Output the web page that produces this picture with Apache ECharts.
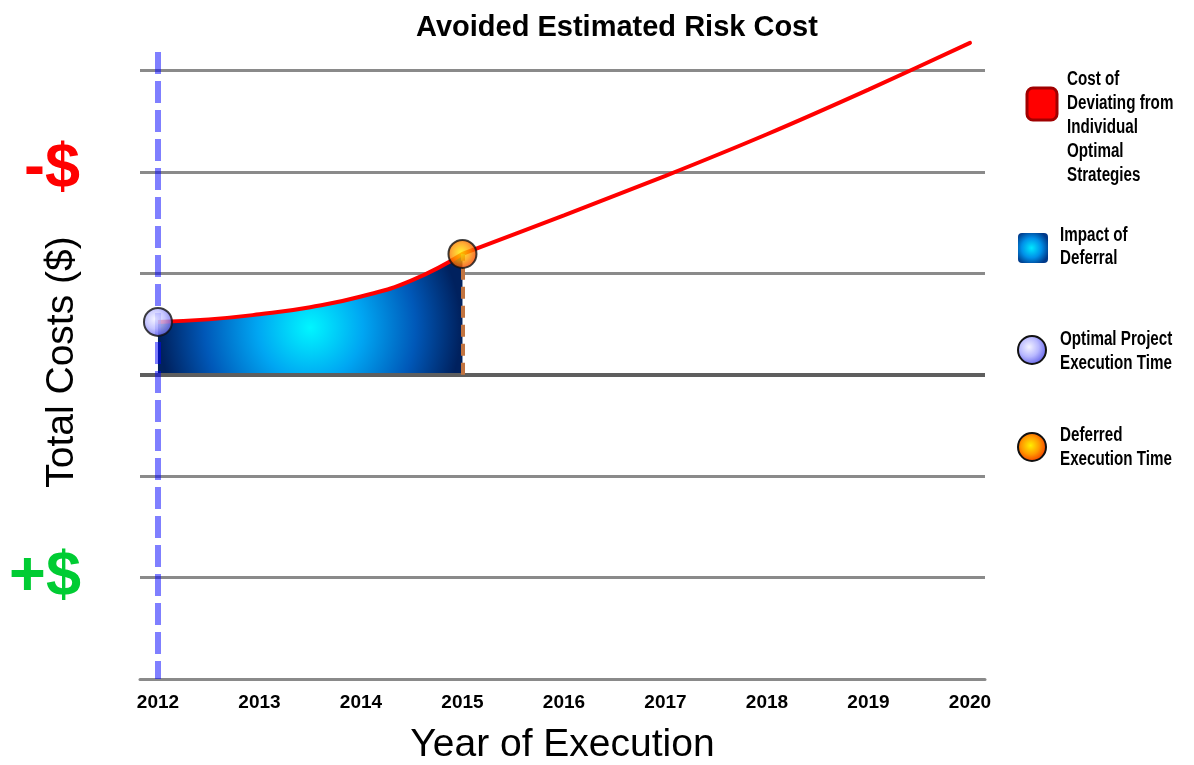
<!DOCTYPE html>
<html>
<head>
<meta charset="utf-8">
<title>Avoided Estimated Risk Cost</title>
<script src="https://cdn.jsdelivr.net/npm/echarts@6/dist/echarts.min.js"></script>
<style>
  html, body { margin: 0; padding: 0; background: #ffffff; }
  #chart { width: 1194px; height: 765px; }
</style>
</head>
<body>
<div id="chart"></div>
<script>
// Year ticks shown along the bottom axis
const tickYears = [2012, 2013, 2014, 2015, 2016, 2017, 2018, 2019, 2020];

// Cost curve while the project is deferred (optimal year -> deferred year)
const curveYears = [2012, 2012.5, 2013, 2013.5, 2014, 2014.5, 2015];
const curveCosts = [3.52, 3.545, 3.595, 3.665, 3.77, 3.93, 4.19];

// Cost of deviating from the individual optimal strategies after the deferred year
const trendYears = [2015, 2016, 2017, 2018, 2019, 2020];
const trendCosts = [4.19, 4.57, 4.96, 5.37, 5.81, 6.27];

// Key points
const optimalPoint = [2012, 3.52];
const deferredPoint = [2015, 4.19];

// Cost level the impact of deferral is measured from
const baseCost = 3;

const SANS = '"Liberation Sans", Arial, sans-serif';

const pairs = (xs, ys) => xs.map((x, i) => [x, ys[i]]);

const deferralFill = {
  type: 'radial', x: 0.5, y: 0.61, r: 1.25,
  colorStops: [
    { offset: 0, color: '#00f6ff' },
    { offset: 0.35, color: '#00a6f2' },
    { offset: 0.7, color: '#0058b8' },
    { offset: 1, color: '#00215e' }
  ]
};
const optimalFill = {
  type: 'radial', x: 0.4, y: 0.4, r: 0.65,
  colorStops: [
    { offset: 0, color: '#f2f2ff' },
    { offset: 0.5, color: '#b8b8ff' },
    { offset: 1, color: '#5a5ae6' }
  ]
};
const deferredFill = {
  type: 'radial', x: 0.45, y: 0.45, r: 0.6,
  colorStops: [
    { offset: 0, color: '#ffee00' },
    { offset: 0.5, color: '#ff9a00' },
    { offset: 1, color: '#f02a00' }
  ]
};
const legendSquareFill = {
  type: 'radial', x: 0.45, y: 0.5, r: 0.6,
  colorStops: [
    { offset: 0, color: '#00e8ff' },
    { offset: 0.55, color: '#0090e8' },
    { offset: 1, color: '#003a8a' }
  ]
};

const chart = echarts.init(document.getElementById('chart'), null, { renderer: 'canvas' });

// legend captions use a condensed bold face
const legendFont = 'bold 19px ' + SANS;
const narrow = { scaleX: 0.8, scaleY: 1.05 };

function legendText(x, y, text, lineHeight) {
  return Object.assign({
    type: 'text', x: x, y: y,
    style: { text: text, font: legendFont, lineHeight: lineHeight, fill: '#000', verticalAlign: 'top' }
  }, narrow);
}

chart.setOption({
  animation: false,
  backgroundColor: '#ffffff',
  title: {
    text: 'Avoided Estimated Risk Cost',
    left: 612, top: 8, textAlign: 'center',
    textStyle: { fontFamily: SANS, fontWeight: 'bold', fontSize: 29, color: '#000' }
  },
  grid: { left: 140, right: 209, top: 48, bottom: 86, containLabel: false, outerBoundsMode: 'none' },
  xAxis: {
    type: 'value',
    min: 2011.823, max: 2020.148,
    name: 'Year of Execution',
    nameLocation: 'middle', nameGap: 47,
    nameTextStyle: { fontFamily: SANS, fontSize: 39, color: '#000' },
    axisLine: { show: true, lineStyle: { color: '#8a8a8a', width: 3 } },
    axisTick: { show: false },
    splitLine: { show: false },
    axisLabel: {
      customValues: tickYears,
      formatter: v => String(v),
      margin: 14,
      fontFamily: SANS, fontWeight: 'bold', fontSize: 19, color: '#000'
    }
  },
  yAxis: {
    type: 'value',
    min: 0, max: 6.22, interval: 1,
    axisLine: { show: false },
    axisTick: { show: false },
    axisLabel: { show: false },
    splitLine: { show: true, showMaxLine: false, showMinLine: false, lineStyle: { color: '#8a8a8a', width: 3 } }
  },
  series: [
    {
      // reference level under the deferral area
      name: 'base',
      type: 'line', data: [], silent: true, z: 1,
      markLine: {
        silent: true, symbol: 'none', animation: false,
        label: { show: false },
        lineStyle: { color: '#5e5e5e', width: 4, type: 'solid' },
        data: [{ yAxis: baseCost }]
      }
    },
    {
      name: 'Impact of Deferral',
      type: 'line', z: 3,
      data: pairs(curveYears, curveCosts),
      smooth: true, showSymbol: false,
      lineStyle: { color: '#ff0000', width: 4 },
      areaStyle: { origin: baseCost, color: deferralFill, opacity: 1 }
    },
    {
      name: 'Cost of Deviating from Individual Optimal Strategies',
      type: 'line', z: 4, clip: false,
      data: pairs(trendYears, trendCosts),
      smooth: 0.25, showSymbol: false,
      lineStyle: { color: '#ff0000', width: 4, cap: 'round' }
    },
    {
      name: 'Optimal Project Execution Time',
      type: 'scatter', z: 10,
      data: [optimalPoint],
      symbol: 'circle', symbolSize: 28,
      itemStyle: { color: optimalFill, borderColor: '#111', borderWidth: 2 },
      markLine: {
        silent: true, symbol: 'none', animation: false,
        label: { show: false },
        lineStyle: { color: 'rgba(0,0,255,0.5)', width: 6, type: [22, 7], dashOffset: 4 },
        data: [{ xAxis: optimalPoint[0] }]
      }
    },
    {
      name: 'Deferred Execution Time',
      type: 'scatter', z: 10,
      data: [deferredPoint],
      symbol: 'circle', symbolSize: 28,
      itemStyle: { color: deferredFill, borderColor: '#111', borderWidth: 2 },
      markLine: {
        silent: true, symbol: 'none', animation: false,
        label: { show: false },
        lineStyle: { color: '#c27440', width: 4, type: [12, 7] },
        data: [[{ coord: [deferredPoint[0], baseCost] }, { coord: [deferredPoint[0], deferredPoint[1]] }]]
      }
    }
  ],
  graphic: [
    // axis captions
    {
      type: 'text', x: 62, y: 362, rotation: Math.PI / 2,
      style: { text: 'Total Costs ($)', font: '39px ' + SANS, fill: '#000', align: 'center', verticalAlign: 'middle' }
    },
    {
      type: 'text', x: 52, y: 170,
      style: { text: '-$', font: 'bold 63px ' + SANS, fill: '#ff0000', align: 'center', verticalAlign: 'middle' }
    },
    {
      type: 'text', x: 45, y: 578,
      style: { text: '+$', font: 'bold 63px ' + SANS, fill: '#00cc33', align: 'center', verticalAlign: 'middle' }
    },
    // legend
    {
      type: 'rect', shape: { x: 1027, y: 88, width: 30, height: 32, r: 6 },
      style: { fill: '#ff0000', stroke: '#a00000', lineWidth: 3 }
    },
    legendText(1067, 67, 'Cost of\nDeviating from\nIndividual\nOptimal\nStrategies', 23),
    {
      type: 'rect', shape: { x: 1018, y: 233, width: 30, height: 30, r: 4 },
      style: { fill: legendSquareFill }
    },
    legendText(1060, 224, 'Impact of\nDeferral', 22),
    {
      type: 'circle', shape: { cx: 1032, cy: 350, r: 14 },
      style: { fill: optimalFill, stroke: '#111', lineWidth: 2 }
    },
    legendText(1060, 327, 'Optimal Project\nExecution Time', 23),
    {
      type: 'circle', shape: { cx: 1032, cy: 447, r: 14 },
      style: { fill: deferredFill, stroke: '#111', lineWidth: 2 }
    },
    legendText(1060, 423, 'Deferred\nExecution Time', 23)
  ]
});
</script>
</body>
</html>
